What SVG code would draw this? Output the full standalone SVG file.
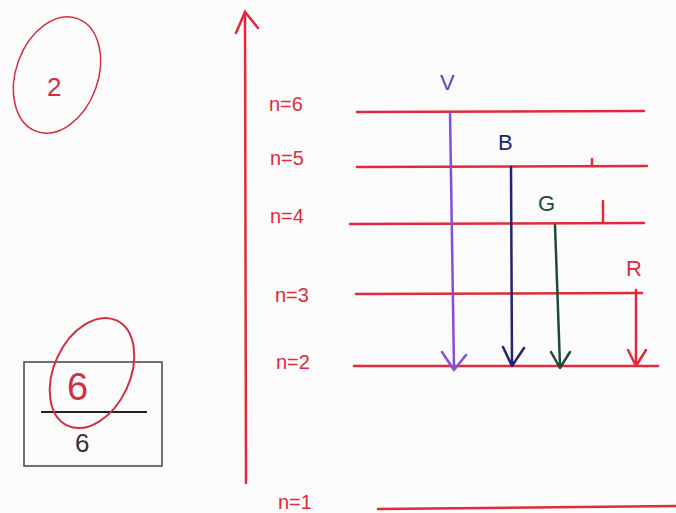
<svg xmlns="http://www.w3.org/2000/svg" width="676" height="513" viewBox="0 0 676 513">
<style>
.lvl{stroke:#e02a3a;stroke-width:2.5;fill:none;stroke-linecap:round}
.lab{font-family:"Liberation Sans",Arial,sans-serif;font-size:20px;fill:#e02a3a}
.ink{fill:none;stroke-width:2.5;stroke-linecap:round;stroke-linejoin:round}
.let{font-family:"Liberation Sans",Arial,sans-serif;font-size:22px}
</style>
<rect width="676" height="513" fill="#fbfbfc"/>
<g id="axis">
<path class="lvl" d="M245 12 L246 483"/>
<path class="lvl" d="M236 33 L245 12 L258 28"/>
</g>
<g id="level6"><path class="lvl" d="M357 112 L644 111"/><text class="lab" x="269" y="111">n=6</text></g>
<g id="level5"><path class="lvl" d="M357 167 L647 166 M592 165 L592 159"/><text class="lab" x="270" y="165">n=5</text></g>
<g id="level4"><path class="lvl" d="M350 224 L644 223 M603 222 L603 201"/><text class="lab" x="270" y="223">n=4</text></g>
<g id="level3"><path class="lvl" d="M356 294 L642 293"/><text class="lab" x="275" y="302">n=3</text></g>
<g id="level2"><path class="lvl" d="M354 366 L658 366"/><text class="lab" x="276" y="369">n=2</text></g>
<g id="level1"><path class="lvl" d="M378 509 L676 506"/><text class="lab" x="278" y="509" font-size="18">n=1</text></g>
<g id="connectors">
<g id="V"><path class="ink" stroke="#8a4ed6" d="M450 112 L454 368 M442 352 L454 370 L466 355"/><text class="let" x="440" y="90" fill="#5a3fc0">V</text></g>
<g id="B"><path class="ink" stroke="#24246e" stroke-width="3" d="M511 167 L512 366 M503 347 L512 366 L524 348"/><text class="let" x="498" y="150" fill="#24246e">B</text></g>
<g id="G"><path class="ink" stroke="#1e4a3c" d="M555 225 L560 366 M551 352 L560 368 L570 352"/><text class="let" x="538" y="211" fill="#1e4a3c">G</text></g>
<g id="R"><path class="ink" stroke="#e02a3a" d="M636 290 L636 366 M628 350 L636 366 L646 350"/><text class="let" x="626" y="276" fill="#e02a3a" font-size="18">R</text></g>
</g>
<g id="label2">
<ellipse cx="57" cy="75" rx="41" ry="60" transform="rotate(20 57 75)" fill="none" stroke="#d0303f" stroke-width="1.5"/>
<text x="47" y="96" font-family="Liberation Sans,Arial,sans-serif" font-size="26" fill="#d0303f">2</text>
</g>
<g id="score">
<rect x="24" y="362" width="138" height="104" fill="none" stroke="#444" stroke-width="1.5"/>
<path d="M41 412 L147 412" stroke="#222" stroke-width="2"/>
<text x="75" y="452" font-family="Liberation Sans,Arial,sans-serif" font-size="26" fill="#333">6</text>
<ellipse cx="92" cy="373" rx="38" ry="58" transform="rotate(25 92 373)" fill="none" stroke="#d0303f" stroke-width="2"/>
<text x="67" y="400" font-family="Liberation Sans,Arial,sans-serif" font-size="38" fill="#d0303f">6</text>
</g>
</svg>
